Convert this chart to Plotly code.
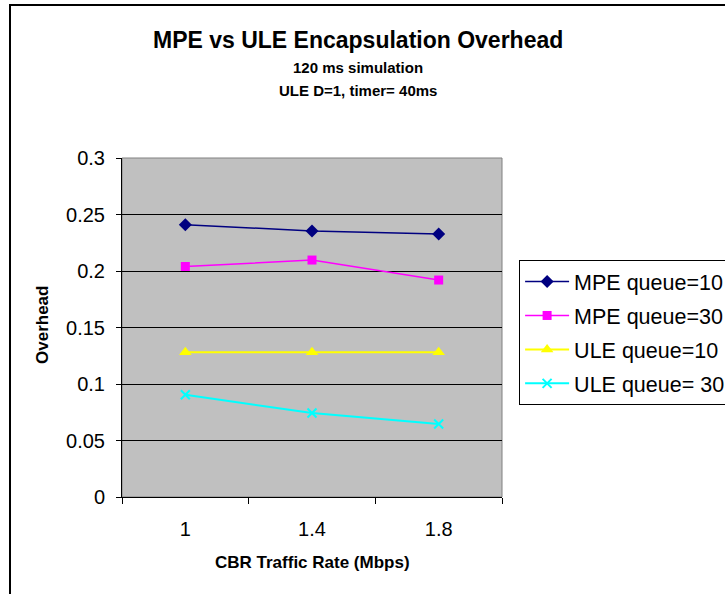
import plotly.graph_objects as go

categories = ["1", "1.4", "1.8"]
mpe_q10 = [0.241, 0.2355, 0.2327]
mpe_q30 = [0.204, 0.2097, 0.192]
ule_q10 = [0.128, 0.128, 0.128]
ule_q30 = [0.0905, 0.0743, 0.0646]
y_ticks = [0, 0.05, 0.1, 0.15, 0.2, 0.25, 0.3]
y_tick_text = ["0", "0.05", "0.1", "0.15", "0.2", "0.25", "0.3"]

FONT = "Liberation Sans, Arial, sans-serif"

fig = go.Figure()
series = [
    ("MPE queue=10", mpe_q10, "#000080", "diamond", 10, 1.5),
    ("MPE queue=30", mpe_q30, "#FF00FF", "square", 9, 1.5),
    ("ULE queue=10", ule_q10, "#FFFF00", "triangle-up", 11, 2),
    ("ULE queue= 30", ule_q30, "#00FFFF", "x-thin", 9, 2),
]
for i, (name, vals, col, sym, size, lw) in enumerate(series):
    fig.add_trace(go.Scatter(
        x=categories, y=vals, name=name, mode="lines+markers",
        line=dict(color=col, width=lw),
        marker=dict(symbol=sym, size=size, color=col,
                    line=dict(color=col, width=2 if sym == "x-thin" else 0)),
        legendgroup="g%d" % i,
    ))

fig.update_layout(
    width=725, height=594,
    margin=dict(l=122, r=223, t=158, b=97, autoexpand=False),
    paper_bgcolor="white",
    plot_bgcolor="#C0C0C0",
    font=dict(family=FONT, color="black"),
    showlegend=True,
    legend=dict(
        x=1.045, y=0.699, xanchor="left", yanchor="top",
        bordercolor="black", borderwidth=1, bgcolor="white",
        font=dict(size=21.5, family=FONT, color="black"),
        tracegroupgap=3, traceorder="grouped", itemwidth=44,
    ),
)

fig.update_xaxes(
    type="category", range=[-0.5, 2.5],
    showline=True, linecolor="black", linewidth=1,
    ticks="outside", tickson="boundaries", ticklen=6, tickcolor="black",
    tickfont=dict(size=20, family=FONT),
    ticklabelstandoff=14,
    showgrid=False, zeroline=False,
)
fig.update_yaxes(
    range=[0, 0.3], tickvals=y_ticks, ticktext=y_tick_text,
    showline=True, linecolor="black", linewidth=1,
    ticks="outside", ticklen=5, tickcolor="black",
    tickfont=dict(size=20, family=FONT),
    ticklabelstandoff=7,
    showgrid=True, gridcolor="black", gridwidth=1, zeroline=False,
)

def px(x):
    return (x - 122) / 380.0

def py(y):
    return (497 - y) / 339.0

# plot area border and outer chart border
fig.add_shape(type="rect", xref="paper", yref="paper", x0=0, x1=1, y0=0, y1=1,
              line=dict(color="#808080", width=1), layer="below")
fig.add_shape(type="rect", xref="paper", yref="paper",
              x0=px(10), x1=px(760), y0=py(5), y1=py(640),
              line=dict(color="black", width=2))

ann = [
    ("MPE vs ULE Encapsulation Overhead", 358, 40, 23, 0),
    ("120 ms simulation", 358, 67, 15, 0),
    ("ULE D=1, timer= 40ms", 358, 90, 15, 0),
    ("CBR Traffic Rate (Mbps)", 312, 562, 17, 0),
    ("Overhead", 42, 325, 17, -90),
]
for text, x, y, size, ang in ann:
    fig.add_annotation(text="<b>%s</b>" % text, xref="paper", yref="paper",
                       x=px(x), y=py(y), xanchor="center", yanchor="middle",
                       showarrow=False, textangle=ang,
                       font=dict(size=size, family=FONT, color="black"))

fig.write_html("out.html")
